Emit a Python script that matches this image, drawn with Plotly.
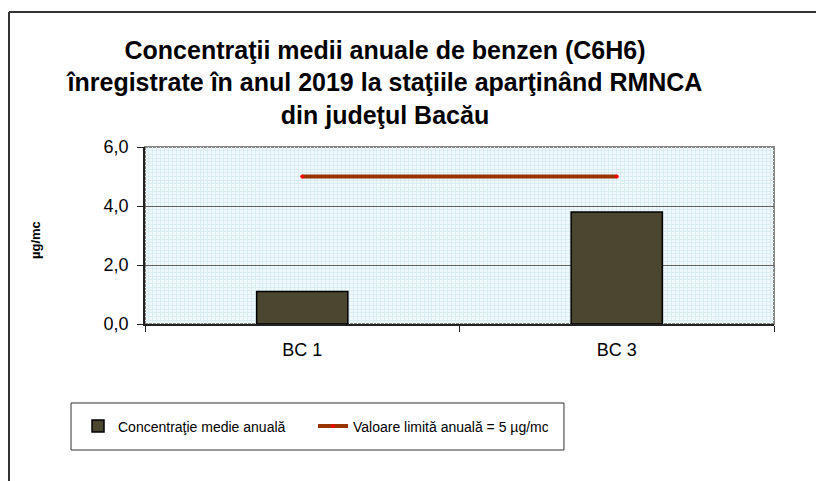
import plotly.graph_objects as go

categories = ["BC 1", "BC 3"]
values = [1.1, 3.8]
limit_values = [5, 5]
y_ticks = [0, 2, 4, 6]
title_lines = [
    "Concentraţii medii anuale de benzen (C6H6)",
    "înregistrate în anul 2019 la staţiile aparţinând RMNCA",
    "din judeţul Bacău",
]
bar_name = "Concentraţie medie anuală"
line_name = "Valoare limită anuală = 5 µg/mc"
y_title = "µg/mc"

FONT = "Liberation Sans, Arial, sans-serif"

fig = go.Figure()
# invisible trace on the main (linear) x axis, which only carries the fine background grid
fig.add_trace(go.Scatter(x=[0, 1], y=[0, 0], xaxis="x", yaxis="y", mode="markers",
                         marker=dict(opacity=0), showlegend=False, hoverinfo="skip"))
fig.add_trace(go.Bar(
    x=categories, y=values, name=bar_name, xaxis="x2",
    marker=dict(color="#4b4630", line=dict(color="#000000", width=1.5)),
    width=0.29,
))
fig.add_trace(go.Scatter(
    x=categories, y=limit_values, name=line_name, mode="lines+markers", xaxis="x2",
    line=dict(color="#993300", width=4),
    marker=dict(color="#ff0000", size=4),
))

shapes = [
    # gray plot border
    dict(type="rect", xref="paper", yref="paper", x0=0, x1=1, y0=0, y1=1,
         line=dict(color="#888888", width=2), layer="below"),
    # legend frame
    dict(type="rect", xref="paper", yref="paper",
         x0=-0.1176, x1=0.6661, y0=-0.4463, y1=-0.7119,
         line=dict(color="#333333", width=1), fillcolor="rgba(0,0,0,0)"),
    # outer chart frame (left and top edges; cropped at right/bottom)
    dict(type="line", xref="paper", yref="paper",
         x0=-0.2162, x1=1.0795, y0=1.7627, y1=1.7627,
         line=dict(color="#333333", width=2)),
    dict(type="line", xref="paper", yref="paper",
         x0=-0.2162, x1=-0.2162, y0=-0.887, y1=1.7627,
         line=dict(color="#333333", width=2)),
]

fig.update_layout(
    width=816, height=473,
    margin=dict(l=137, r=50, t=139, b=157),
    paper_bgcolor="#ffffff",
    plot_bgcolor="#f0f8fa",
    separators=",.",
    font=dict(family=FONT, size=14, color="#000000"),
    title=dict(
        text="<br>".join(title_lines),
        x=0.462, xref="container", xanchor="center",
        y=0.8932, yref="container", yanchor="top",
        font=dict(family=FONT, size=25, color="#000000", weight="bold"),
    ),
    showlegend=True,
    legend=dict(
        orientation="h", x=-0.1065, xref="paper",
        y=-0.579, yanchor="middle", xanchor="left",
        font=dict(family=FONT, size=14),
        bgcolor="rgba(0,0,0,0)", borderwidth=0,
        entrywidth=190, itemwidth=30, traceorder="normal",
    ),
    xaxis=dict(
        range=[0, 1], showgrid=True, gridcolor="#d8ecf2", gridwidth=1,
        dtick=1 / 160, showticklabels=False, ticks="",
        zeroline=False, showline=False, fixedrange=True,
    ),
    xaxis2=dict(
        type="category", overlaying="x", side="bottom", showgrid=False,
        showline=True, linecolor="#222222", linewidth=1.5,
        ticks="outside", tickson="boundaries", ticklen=6, tickcolor="#222222",
        tickfont=dict(size=18), ticklabelstandoff=9,
        zeroline=False,
    ),
    yaxis=dict(
        range=[0, 6], tickvals=y_ticks, tickformat=".1f",
        showgrid=True, gridcolor="#606060", gridwidth=1,
        minor=dict(dtick=0.125, showgrid=True, gridcolor="#d8ecf2", gridwidth=1),
        showline=True, linecolor="#222222", linewidth=1.5,
        ticks="outside", ticklen=6, tickcolor="#222222",
        tickfont=dict(size=18), ticklabelstandoff=5,
        zeroline=False,
    ),
    annotations=[
        dict(text="<b>" + y_title + "</b>", xref="paper", yref="paper",
             x=-0.1733, y=0.4746, xanchor="center", yanchor="middle",
             textangle=-90, showarrow=False, font=dict(family=FONT, size=13)),
    ],
    shapes=shapes,
)
fig.write_html("out.html", config={"displayModeBar": False})
